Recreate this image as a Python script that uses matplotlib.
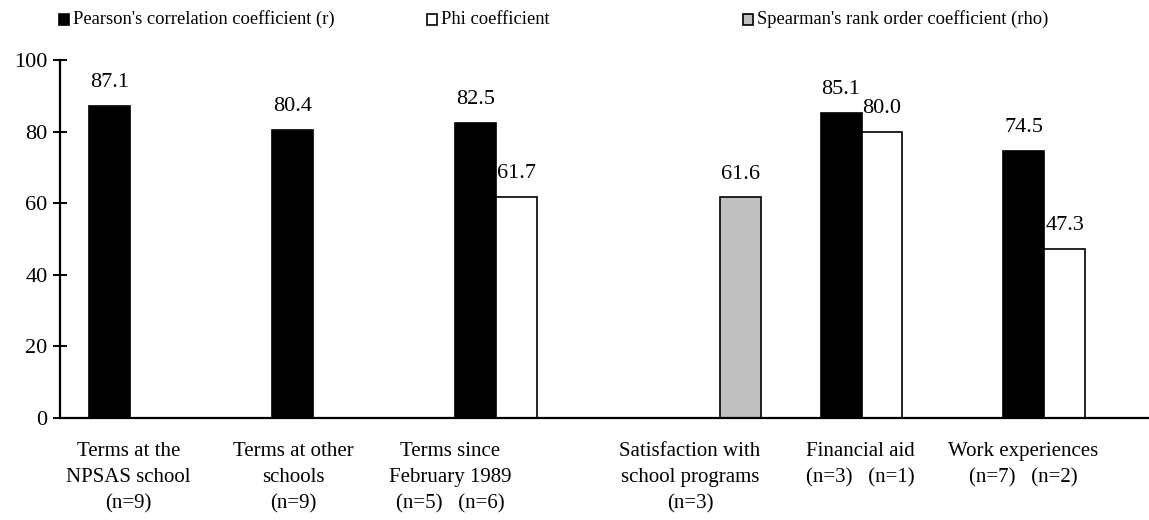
import numpy as np
import matplotlib.pyplot as plt
from matplotlib.patches import Rectangle

plt.rcParams['font.family'] = ['Liberation Serif', 'DejaVu Serif']

# Data
categories = ["Terms at the\nNPSAS school\n(n=9)",
              "Terms at other\nschools\n(n=9)",
              "Terms since\nFebruary 1989\n(n=5)   (n=6)",
              "Satisfaction with\nschool programs\n(n=3)",
              "Financial aid\n(n=3)   (n=1)",
              "Work experiences\n(n=7)   (n=2)"]
pearson = [87.1, 80.4, 82.5, np.nan, 85.1, 74.5]
phi = [np.nan, np.nan, 61.7, np.nan, 80.0, 47.3]
spearman = [np.nan, np.nan, np.nan, 61.6, np.nan, np.nan]

series_names = ["Pearson's correlation coefficient (r)",
                "Phi coefficient",
                "Spearman's rank order coefficient (rho)"]
series_colors = ['black', 'white', '#c0c0c0']

# label centres are not exactly under the groups in the original
label_pos = [-0.12, 0.78, 1.64, 2.95, 3.88, 4.77]

W, H = 1149, 520
fig = plt.figure(figsize=(W / 100, H / 100), dpi=100)
ax = fig.add_axes([60 / W, 102 / H, 1 - 60 / W, (418 - 60) / H])

x = np.arange(len(categories))
bw = 0.224
for k, (vals, col) in enumerate(zip([pearson, phi, spearman], series_colors)):
    pos = x + (k - 1) * bw
    vals = np.array(vals)
    ok = ~np.isnan(vals)
    ax.bar(pos[ok], vals[ok], width=bw, color=col, edgecolor='black',
           linewidth=1.2, zorder=2)
    for xp, v in zip(pos[ok], vals[ok]):
        ax.annotate(f"{v:.1f}", (xp, v), xytext=(0, 10), textcoords='offset points',
                    ha='center', va='bottom', fontsize=16)

ax.set_xlim(-0.495, 5.46)
ax.set_ylim(0, 100)
ax.set_yticks(range(0, 101, 20))
ax.tick_params(axis='y', direction='inout', length=10, width=1.4, labelsize=16, pad=4)
ax.set_xticks(label_pos)
ax.set_xticklabels(categories, fontsize=15, linespacing=1.5)
ax.tick_params(axis='x', length=0, pad=17)
for s in ['top', 'right']:
    ax.spines[s].set_visible(False)
for s in ['left', 'bottom']:
    ax.spines[s].set_linewidth(1.6)

# legend drawn along the top
leg_x = [59, 427, 743]
for lx, name, col in zip(leg_x, series_names, series_colors):
    fig.add_artist(Rectangle((lx / W, 1 - 25 / H), 10 / W, 11 / H, transform=fig.transFigure,
                             facecolor=col, edgecolor='black', linewidth=1.2))
    fig.text((lx + 14) / W, 1 - 19 / H, name, fontsize=13.3, va='center', ha='left')

fig.savefig("out.png", dpi=100)
